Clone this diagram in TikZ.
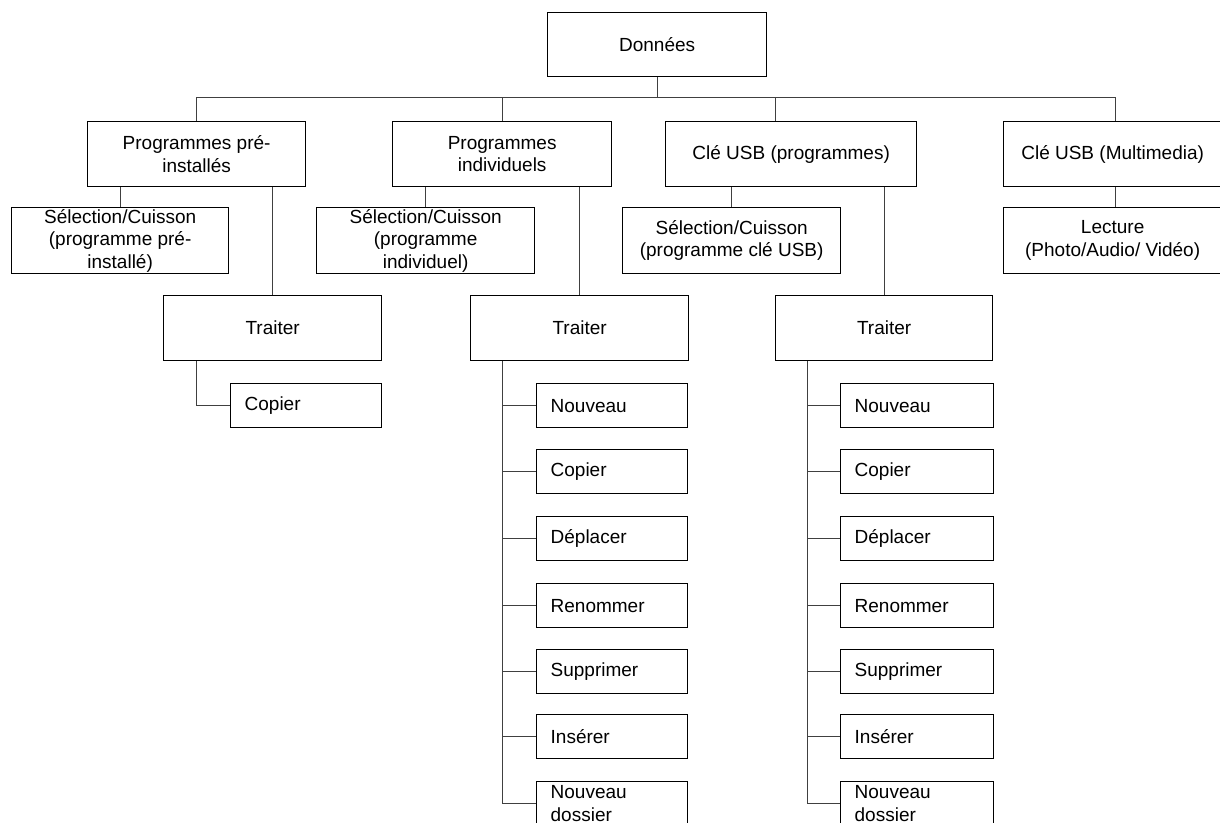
\documentclass[tikz,border=0pt]{standalone}
\usepackage{fontspec}
\setmainfont{Liberation Sans}
\usetikzlibrary{calc}

\begin{document}
\begin{tikzpicture}[x=0.5pt, y=-0.5pt,
  txt/.style={font=\fontsize{9.5}{11.25}\selectfont},
  box/.style={txt, draw=black, fill=white, line width=0.65pt, anchor=north west,
    inner sep=0pt, align=center},
  wide/.style={box, minimum width=#1, minimum height=32.5pt},
  tall/.style={box, minimum width=#1, minimum height=33pt},
  item/.style={box, minimum width=#1, minimum height=22pt, inner xsep=7pt,
    text width=#1-14pt, align=left},
  link/.style={draw=black!75, line width=0.5pt}]

\useasboundingbox (0,0) rectangle (1220,823);
\clip (0,0) rectangle (1220,823);
\fill[white] (0,0) rectangle (1220,823);

% root and first level
\node[box, minimum width=109.5pt, minimum height=32pt] (don) at (547,12) {Données};
\node[wide=109pt]   (pre) at (87,121)   {Programmes pré-\\installés};
\node[wide=109.5pt] (ind) at (392,121)  {Programmes\\individuels};
\node[wide=125.5pt] (usb) at (665,121)  {Clé USB (programmes)};
\node[wide=109pt]   (mm)  at (1003,121) {Clé USB (Multimedia)};

% second level
\node[tall=108.5pt] (selpre) at (11,207)   {Sélection/Cuisson\\(programme pré-\\installé)};
\node[tall=109pt]   (selind) at (316,207)  {Sélection/Cuisson\\(programme\\individuel)};
\node[tall=109pt]   (selusb) at (622,207)  {Sélection/Cuisson\\(programme clé USB)};
\node[tall=109pt]   (lect)   at (1003,207) {Lecture\\(Photo/Audio/ Vidéo)};

% processing boxes
\node[wide=109pt]   (tr1) at (163,295) {Traiter};
\node[wide=109pt]   (tr2) at (470,295) {Traiter};
\node[wide=108.5pt] (tr3) at (775,295) {Traiter};

% actions
\node[item=75.5pt] (cpA) at (230,383) {Copier};

\node[item=75.5pt] (nvB) at (536,383) {Nouveau};
\node[item=75.5pt] (cpB) at (536,449) {Copier};
\node[item=75.5pt] (dpB) at (536,516) {Déplacer};
\node[item=75.5pt] (rnB) at (536,583) {Renommer};
\node[item=75.5pt] (spB) at (536,649) {Supprimer};
\node[item=75.5pt] (isB) at (536,714) {Insérer};
\node[item=75.5pt, inner ysep=2pt] (ndB) at (536,781) {Nouveau\\dossier};

\node[item=76.5pt] (nvC) at (840,383) {Nouveau};
\node[item=76.5pt] (cpC) at (840,449) {Copier};
\node[item=76.5pt] (dpC) at (840,516) {Déplacer};
\node[item=76.5pt] (rnC) at (840,583) {Renommer};
\node[item=76.5pt] (spC) at (840,649) {Supprimer};
\node[item=76.5pt] (isC) at (840,714) {Insérer};
\node[item=76.5pt, inner ysep=2pt] (ndC) at (840,781) {Nouveau\\dossier};

% bus from the root
\coordinate (bus) at (0,98);
\draw[link] (don.south) -- (don.south |- bus) -| (pre.north);
\draw[link] (don.south |- bus) -| (ind.north);
\draw[link] (don.south |- bus) -| ([xshift=-8pt]usb.north);
\draw[link] (don.south |- bus) -| ([xshift=1.5pt]mm.north);

% drops from the first level
\draw[link] (selpre.north) -- (selpre.north |- pre.south);
\draw[link] (tr1.north) -- (tr1.north |- pre.south);
\draw[link] (selind.north) -- (selind.north |- ind.south);
\draw[link] (tr2.north) -- (tr2.north |- ind.south);
\draw[link] (selusb.north) -- (selusb.north |- usb.south);
\draw[link] (tr3.north) -- (tr3.north |- usb.south);
\draw[link] ([xshift=1.5pt]lect.north) -- ([xshift=1.5pt]lect.north |- mm.south);

% action branches
\draw[link] ($(tr1.south west)+(33,0)$) |- (cpA.west);
\foreach \n in {nvB,cpB,dpB,rnB,spB,isB}
  \draw[link] ($(tr2.south west)+(32,0)$) |- (\n.west);
\draw[link] ($(tr2.south west)+(32,0)$) |- ($(ndB.north west)+(0,22)$);
\foreach \n in {nvC,cpC,dpC,rnC,spC,isC}
  \draw[link] ($(tr3.south west)+(32,0)$) |- (\n.west);
\draw[link] ($(tr3.south west)+(32,0)$) |- ($(ndC.north west)+(0,22)$);
\end{tikzpicture}
\end{document}
